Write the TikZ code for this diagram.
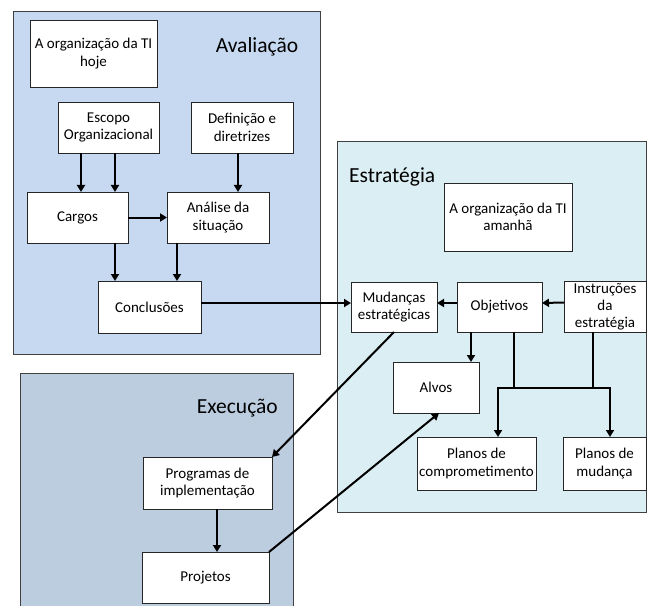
\documentclass[tikz,border=0pt]{standalone}
\usepackage{fontspec}
\setmainfont{Carlito}
\usetikzlibrary{arrows.meta}
\definecolor{avalfill}{HTML}{C6D9F0}
\definecolor{estrfill}{HTML}{DBEEF3}
\definecolor{execfill}{HTML}{BDCDE0}
\definecolor{panelline}{HTML}{404040}
\tikzset{
  panel/.style={draw=panelline, line width=1bp},
  box/.style={draw=black!85, line width=0.9bp, fill=white, align=center, inner sep=0bp, outer sep=0pt,
    font=\fontsize{15bp}{17.5bp}\selectfont},
  paneltitle/.style={font=\fontsize{21.5bp}{24bp}\selectfont, inner sep=0pt},
  arr/.style={line width=2bp, -{Triangle[length=7bp,width=8bp]}},
  ln/.style={line width=2bp},
}
\begin{document}
\begin{tikzpicture}[x=1bp,y=-1bp]
\useasboundingbox (0,0) rectangle (647,606);
\clip (0,0) rectangle (647,606);
% panels
\path[panel, fill=avalfill] (13,12) rectangle (320,354);
\path[panel, fill=execfill] (20,373) rectangle (293,620);
\path[panel, fill=estrfill] (337,142) rectangle (646.5,512);
\node[paneltitle] (tAval) at (257,47) {Avaliação};
\node[paneltitle, anchor=west] (tEstr) at (349,177) {Estratégia};
\node[paneltitle, anchor=east] (tExec) at (278,408) {Execução};
% boxes - Avaliação
\node[box, minimum width=127bp, minimum height=67bp] (hoje) at (93.5,53.5) {A organização da TI\\hoje};
\node[box, minimum width=101bp, minimum height=51bp] (escopo) at (108.5,127.5) {Escopo\\Organizacional};
\node[box, minimum width=102bp, minimum height=51bp] (defin) at (242,127.5) {Definição e\\diretrizes};
\node[box, minimum width=101bp, minimum height=51bp] (cargos) at (77.5,217.5) {Cargos};
\node[box, minimum width=102bp, minimum height=51bp] (analise) at (218,217.5) {Análise da\\situação};
\node[box, minimum width=103bp, minimum height=52bp] (concl) at (149.5,307) {Conclusões};
% boxes - Estratégia
\node[box, minimum width=128bp, minimum height=68bp] (amanha) at (508,217) {A organização da TI\\amanhã};
\node[box, minimum width=86bp, minimum height=50bp] (mudancas) at (394,307) {Mudanças\\estratégicas};
\node[box, minimum width=85bp, minimum height=50bp] (objetivos) at (499.5,307) {Objetivos};
\node[box, minimum width=82bp, minimum height=51bp, font=\fontsize{15bp}{17bp}\selectfont] (instr) at (605,306.5) {Instruções\\da\\estratégia};
\node[box, minimum width=86bp, minimum height=51bp] (alvos) at (436,387.5) {Alvos};
\node[box, minimum width=119bp, minimum height=53bp] (planosc) at (476.5,463.5) {Planos de\\comprometimento};
\node[box, minimum width=83bp, minimum height=53bp] (planosm) at (604.5,463.5) {Planos de\\mudança};
% boxes - Execução
\node[box, minimum width=129bp, minimum height=52bp] (programas) at (207.5,483) {Programas de\\implementação};
\node[box, minimum width=127bp, minimum height=51bp] (projetos) at (205.5,577.5) {Projetos};
% connectors - Avaliação
\coordinate (e1) at ([xshift=-27.5bp]escopo.south);
\coordinate (e2) at ([xshift=6.5bp]escopo.south);
\coordinate (d1) at ([xshift=-4bp]defin.south);
\coordinate (c1) at ([xshift=37.5bp]cargos.south);
\coordinate (a1) at ([xshift=-41bp]analise.south);
\draw[arr] (e1) -- (e1 |- cargos.north);
\draw[arr] (e2) -- (e2 |- cargos.north);
\draw[arr] (d1) -- (d1 |- analise.north);
\draw[arr] (cargos.east) -- (analise.west);
\draw[arr] (c1) -- (c1 |- concl.north);
\draw[arr] (a1) -- (a1 |- concl.north);
\draw[arr] ([yshift=4bp]concl.east) -- ([yshift=4bp]mudancas.west);
% connectors - Estratégia
\draw[arr] ([yshift=4bp]objetivos.west) -- ([yshift=4bp]mudancas.east);
\draw[arr] ([yshift=4bp]instr.west) -- ([yshift=4bp]objetivos.east);
\coordinate (o1) at ([xshift=-28.5bp]objetivos.south);
\coordinate (o2) at ([xshift=14.5bp]objetivos.south);
\coordinate (i1) at ([xshift=-12bp]instr.south);
\coordinate (hl) at ([xshift=21.5bp, yshift=49bp]planosc.north);
\coordinate (hr) at ([xshift=5.5bp, yshift=49bp]planosm.north);
\draw[arr] (o1) -- (o1 |- alvos.north);
\draw[ln] (o2) -- (o2 |- hl);
\draw[ln] (i1) -- (i1 |- hl);
\draw[ln] ([xshift=-1bp]hl) -- ([xshift=1bp]hr);
\draw[arr] (hl) -- (hl |- planosc.north);
\draw[arr] (hr) -- (hr |- planosm.north);
% connectors - cross panels
\draw[arr] (mudancas.south) -- (programas.north east);
\draw[arr] (projetos.north east) -- ([xshift=3bp]alvos.south);
\coordinate (p1) at ([xshift=9.5bp]programas.south);
\draw[arr] (p1) -- (p1 |- projetos.north);
\end{tikzpicture}
\end{document}
